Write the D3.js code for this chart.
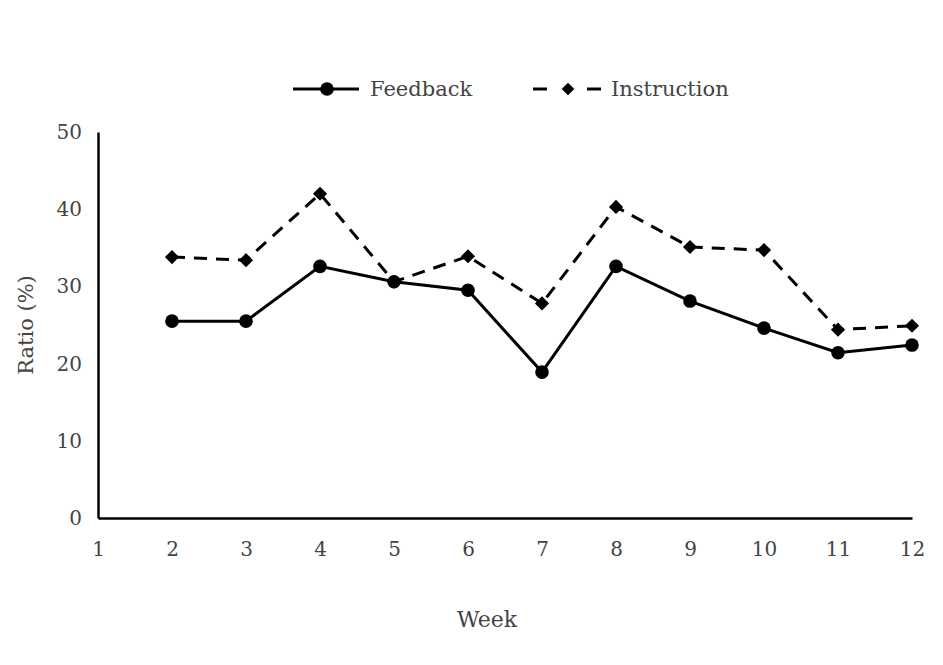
<!DOCTYPE html>
<html><head><meta charset="utf-8">
<script src="https://cdn.jsdelivr.net/npm/d3@7"></script>
<style>body{margin:0;background:#fff}svg{display:block}text{font-family:"DejaVu Serif","Liberation Serif",serif;fill:#444}</style>
</head><body><svg id="c" width="943" height="665"></svg>
<script>
const weeks = [2,3,4,5,6,7,8,9,10,11,12];
const feedback = [25.5,25.5,32.6,30.6,29.5,18.9,32.6,28.1,24.6,21.4,22.4];
const instruction = [33.8,33.4,42.0,30.6,33.9,27.8,40.3,35.1,34.7,24.4,24.9];
const xTicks = [1,2,3,4,5,6,7,8,9,10,11,12];
const yTicks = [0,10,20,30,40,50];
const seriesNames = ["Feedback","Instruction"];

const svg = d3.select("#c");
const x = d3.scaleLinear().domain([1,12]).range([98,912]);
const y = d3.scaleLinear().domain([0,50]).range([518,132]);

const xAxis = svg.append("g").attr("transform","translate(0,518)")
  .call(d3.axisBottom(x).tickValues(xTicks).tickSize(0).tickPadding(24).tickFormat(d3.format("d")));
const yAxis = svg.append("g").attr("transform","translate(98,0)")
  .call(d3.axisLeft(y).tickValues(yTicks).tickSize(0).tickPadding(16));
[xAxis,yAxis].forEach(g=>{
  g.attr("font-size",null).attr("font-family",null);
  g.select(".domain").attr("stroke","#000").attr("stroke-width",2.5);
  g.selectAll("text").style("font-size","20px").style("fill","#444").style("font-family",'"DejaVu Serif",serif');
});
xAxis.selectAll("text").attr("dy","0.71em");

svg.append("text").attr("x",487).attr("y",627).attr("text-anchor","middle").style("font-size","22px").text("Week");
svg.append("text").attr("transform","translate(33,325) rotate(-90)").attr("text-anchor","middle").style("font-size","21px").text("Ratio (%)");

const line = d3.line().x(d=>x(d[0])).y(d=>y(d[1]));
const fData = weeks.map((w,i)=>[w,feedback[i]]);
const iData = weeks.map((w,i)=>[w,instruction[i]]);

svg.append("path").datum(iData).attr("d",line).attr("fill","none").attr("stroke","#000")
  .attr("stroke-width",3).attr("stroke-dasharray","13,9");
svg.append("path").datum(fData).attr("d",line).attr("fill","none").attr("stroke","#000").attr("stroke-width",3);

svg.selectAll(".dm").data(iData).join("path").attr("class","dm")
  .attr("d",d3.symbol().type(d3.symbolSquare).size(100)).attr("fill","#000")
  .attr("transform",d=>`translate(${x(d[0])},${y(d[1])}) rotate(45)`);
svg.selectAll(".ci").data(fData).join("circle").attr("class","ci")
  .attr("cx",d=>x(d[0])).attr("cy",d=>y(d[1])).attr("r",6.8).attr("fill","#000");

const lg = svg.append("g");
lg.append("line").attr("x1",293).attr("x2",359).attr("y1",89).attr("y2",89).attr("stroke","#000").attr("stroke-width",3);
lg.append("circle").attr("cx",327).attr("cy",89).attr("r",6.8).attr("fill","#000");
lg.append("text").attr("x",370).attr("y",96).style("font-size","21px").text(seriesNames[0]);
lg.append("line").attr("x1",533).attr("x2",601).attr("y1",89).attr("y2",89).attr("stroke","#000").attr("stroke-width",3).attr("stroke-dasharray","14,40");
lg.append("path").attr("d",d3.symbol().type(d3.symbolSquare).size(80)).attr("transform","translate(568,89) rotate(45)").attr("fill","#000");
lg.append("text").attr("x",611).attr("y",96).style("font-size","21px").text(seriesNames[1]);
</script></body></html>
